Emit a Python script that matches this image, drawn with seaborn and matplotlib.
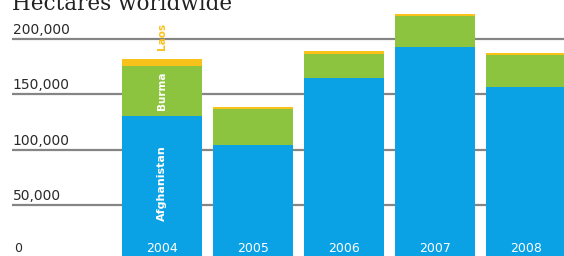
import matplotlib
matplotlib.use("Agg")
import matplotlib.pyplot as plt
import seaborn as sns
import pandas as pd
import numpy as np

years = ["2004", "2005", "2006", "2007", "2008"]
afghanistan = [131000, 104000, 165000, 193000, 157000]
burma = [44200, 32800, 21500, 27700, 28500]
laos = [6600, 1800, 2500, 1500, 1600]
ytick_values = [0, 50000, 100000, 150000, 200000]
ytick_labels = ["0", "50,000", "100,000", "150,000", "200,000"]
title = "Hectares worldwide"

blue = "#0AA2E4"
green = "#8CC43F"
yellow = "#F9C21A"
grid_col = "#858585"

sns.set_theme(style="white")
plt.rcParams['font.family'] = ['DejaVu Sans']

df = pd.DataFrame({"year": years, "afg": afghanistan, "burma": burma, "laos": laos})
df["l1"] = df["afg"]
df["l2"] = df["afg"] + df["burma"]
df["l3"] = df["l2"] + df["laos"]

fig = plt.figure(figsize=(5.64, 2.56), dpi=100)
ax = fig.add_axes([0, 0, 1, 1])

W = 0.88
sns.barplot(data=df, x="year", y="l3", color=yellow, width=W, saturation=1, ax=ax, zorder=3, edgecolor="none")
sns.barplot(data=df, x="year", y="l2", color=green, width=W, saturation=1, ax=ax, zorder=3, edgecolor="none")
sns.barplot(data=df, x="year", y="l1", color=blue, width=W, saturation=1, ax=ax, zorder=3, edgecolor="none")

xmin, xmax = -1.78, 4.42
ax.set_xlim(xmin, xmax)
ax.set_ylim(4500, 235000)

x_start = xmin + 12 / 91.0
for v, lab in zip(ytick_values, ytick_labels):
    if v > 0:
        ax.hlines(v, x_start, xmax, color=grid_col, lw=1.6, zorder=1)
        ax.text(x_start + 0.01, v + 2000, lab, fontsize=10, color="#2a2a2a",
                ha="left", va="bottom", zorder=2)
    else:
        ax.text(x_start + 0.02, 11500, lab, fontsize=9, color="#2a2a2a",
                ha="left", va="center", zorder=2)

for i, y in enumerate(years):
    ax.text(i, 11000, y, fontsize=9, color="white", ha="center", va="center", zorder=5)

ax.text(0, afghanistan[0] / 2 + 5000, "Afghanistan", rotation=90, color="white",
        fontsize=8, fontweight="bold", ha="center", va="center", zorder=5)
ax.text(0, afghanistan[0] + burma[0] / 2, "Burma", rotation=90, color="white",
        fontsize=7.5, fontweight="bold", ha="center", va="center", zorder=5)
ax.text(0, afghanistan[0] + burma[0] + laos[0] + 20000, "Laos", rotation=90, color=yellow,
        fontsize=7.5, fontweight="bold", ha="center", va="center", zorder=5)

ax.text(12 / 564, 1 - 10 / 256, title, transform=ax.transAxes, fontsize=15.5,
        fontfamily="DejaVu Serif", color="#222222", ha="left", va="baseline")

ax.set_xlabel("")
ax.set_ylabel("")
ax.set_xticks([])
ax.set_yticks([])
for s in ax.spines.values():
    s.set_visible(False)

fig.savefig("out.png", dpi=100)
